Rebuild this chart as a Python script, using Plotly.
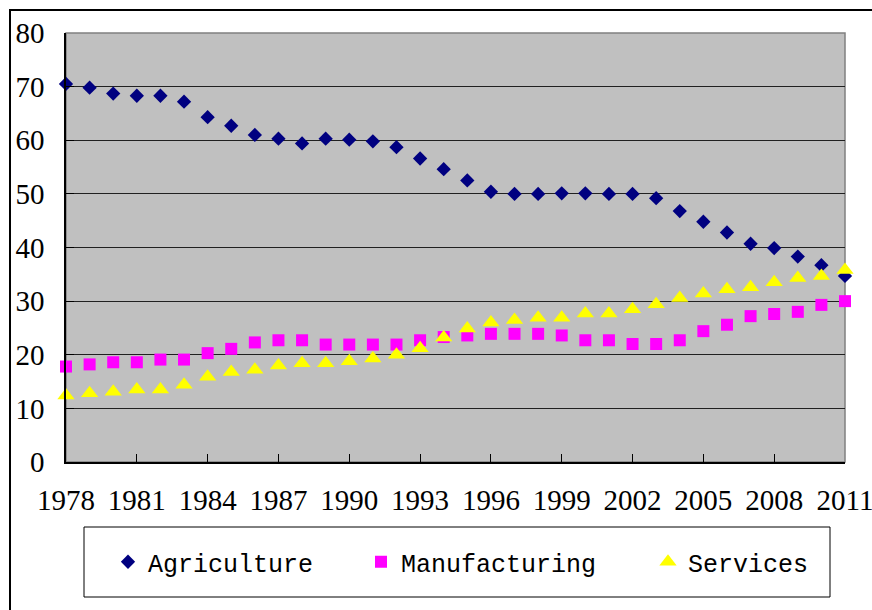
import plotly.graph_objects as go

years = list(range(1978, 2012))
agriculture = [70.5, 69.8, 68.7, 68.3, 68.3, 67.2, 64.3, 62.7, 61.0, 60.3, 59.4, 60.3,
               60.1, 59.8, 58.7, 56.6, 54.6, 52.5, 50.4, 50.0, 50.0, 50.1, 50.1, 50.0,
               50.0, 49.2, 46.8, 44.8, 42.8, 40.7, 39.9, 38.3, 36.7, 34.7]
manufacturing = [17.8, 18.2, 18.6, 18.6, 19.1, 19.1, 20.3, 21.1, 22.3, 22.7, 22.7, 21.9,
                 21.9, 21.9, 21.9, 22.7, 23.3, 23.6, 23.9, 23.9, 23.9, 23.6, 22.7, 22.7,
                 22.0, 22.0, 22.7, 24.4, 25.6, 27.2, 27.6, 28.0, 29.3, 30.0]
services = [12.4, 12.8, 13.1, 13.5, 13.5, 14.4, 15.9, 16.8, 17.2, 18.0, 18.4, 18.4,
            18.8, 19.3, 20.0, 21.2, 23.2, 24.9, 26.0, 26.5, 26.9, 26.9, 27.7, 27.7,
            28.5, 29.4, 30.6, 31.4, 32.2, 32.6, 33.5, 34.3, 34.7, 35.8]
x_ticks = list(range(1978, 2012, 3))
y_ticks = list(range(0, 81, 10))

W, H = 872, 610
L, R, T, B = 66, 27, 33, 148
pw, ph = W - L - R, H - T - B


def px(x):
    return (x - L) / pw


def py(y):
    return (H - B - y) / ph


fig = go.Figure()
fig.add_trace(go.Scatter(x=years, y=agriculture, mode="markers", name="Agriculture",
                         marker=dict(symbol="diamond", size=11, color="#000080"),
                         cliponaxis=False, legendwidth=208))
fig.add_trace(go.Scatter(x=years, y=manufacturing, mode="markers", name="Manufacturing",
                         marker=dict(symbol="square", size=12, color="#FF00FF"),
                         cliponaxis=False, legendwidth=242))
fig.add_trace(go.Scatter(x=years, y=services, mode="markers", name="Services",
                         marker=dict(symbol="triangle-up", size=15, color="#FFFF00"),
                         cliponaxis=False))

tick_font = dict(family="Liberation Serif", size=29, color="black")

fig.update_layout(
    width=W, height=H,
    margin=dict(l=L, r=R, t=T, b=B, autoexpand=False),
    paper_bgcolor="white",
    plot_bgcolor="#C0C0C0",
    showlegend=True,
    legend=dict(orientation="h", x=px(108), xanchor="left", y=py(562), yanchor="middle",
                font=dict(family="Liberation Mono", size=25, color="black"),
                bgcolor="rgba(0,0,0,0)", borderwidth=0),
    xaxis=dict(range=[1978, 2011], tickmode="array", tickvals=x_ticks,
               ticktext=[str(v) for v in x_ticks], ticks="inside", ticklen=8,
               tickcolor="black", tickfont=tick_font, showgrid=False, zeroline=False,
               showline=True, linecolor="black", linewidth=1.5, ticklabelstandoff=11,
               ticklabeloverflow="allow"),
    yaxis=dict(range=[0, 80], tickmode="array", tickvals=y_ticks, ticks="inside", ticklen=8,
               tickcolor="black", tickfont=tick_font, showgrid=True, gridcolor="#202020",
               gridwidth=1, zeroline=False, showline=True, linecolor="black",
               linewidth=1.5, ticklabelstandoff=14),
    shapes=[
        # plot-area border (top/right grey)
        dict(type="rect", xref="paper", yref="paper", x0=0, x1=1, y0=0, y1=1,
             line=dict(color="#808080", width=1.5), layer="below"),
        # outer chart frame
        dict(type="rect", xref="paper", yref="paper", x0=px(10), x1=px(875), y0=py(10),
             y1=py(615), line=dict(color="black", width=2)),
        # legend box
        dict(type="rect", xref="paper", yref="paper", x0=px(84), x1=px(830), y0=py(527),
             y1=py(597), line=dict(color="black", width=1)),
    ],
)

fig.write_html("out.html", config={"displayModeBar": False},
               post_script="document.body.style.margin='0';document.body.style.overflow='hidden';")
